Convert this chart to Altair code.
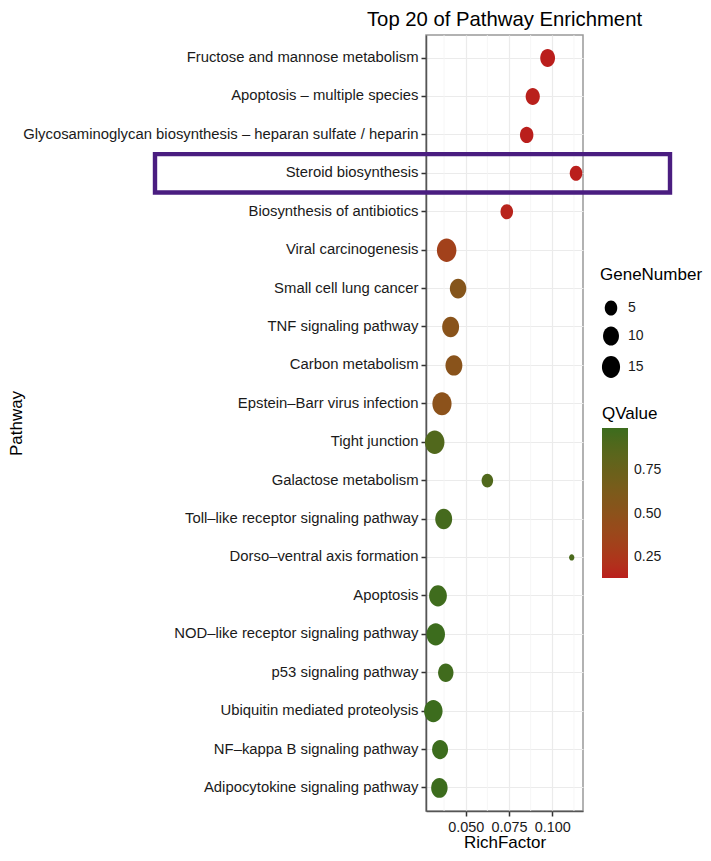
import altair as alt
import pandas as pd

# ---------------- data ----------------
pathways = [
    "Fructose and mannose metabolism",
    "Apoptosis – multiple species",
    "Glycosaminoglycan biosynthesis – heparan sulfate / heparin",
    "Steroid biosynthesis",
    "Biosynthesis of antibiotics",
    "Viral carcinogenesis",
    "Small cell lung cancer",
    "TNF signaling pathway",
    "Carbon metabolism",
    "Epstein–Barr virus infection",
    "Tight junction",
    "Galactose metabolism",
    "Toll–like receptor signaling pathway",
    "Dorso–ventral axis formation",
    "Apoptosis",
    "NOD–like receptor signaling pathway",
    "p53 signaling pathway",
    "Ubiquitin mediated proteolysis",
    "NF–kappa B signaling pathway",
    "Adipocytokine signaling pathway",
]
rich_factor = [0.0973, 0.0887, 0.0852, 0.1137, 0.0737, 0.0390, 0.0456, 0.0413,
               0.0432, 0.0363, 0.0321, 0.0625, 0.0373, 0.1112, 0.0340, 0.0327,
               0.0385, 0.0313, 0.0352, 0.0348]
gene_number = [8, 7, 6, 5, 5, 19, 11, 12, 12, 18, 19, 4, 12, 1, 14, 16, 9, 16, 10, 11]
q_value = [0.129, 0.135, 0.131, 0.133, 0.150, 0.33, 0.55, 0.52, 0.52, 0.50,
           0.89, 0.90, 0.95, 0.93, 0.98, 0.99, 0.975, 0.992, 0.99, 0.992]
major_ticks = [0.050, 0.075, 0.100]
minor_ticks = [0.0375, 0.0625, 0.0875, 0.1125]
size_legend_values = [5, 10, 15]
q_legend_values = [0.25, 0.50, 0.75]
highlight = ["Steroid biosynthesis"]

df = pd.DataFrame({"Pathway": pathways, "RichFactor": rich_factor,
                   "GeneNumber": gene_number, "QValue": q_value})
minor_df = pd.DataFrame({"RichFactor": minor_ticks})
hl_df = pd.DataFrame({"Pathway": highlight})

FONT = "Liberation Sans"
ELLIPSE = "M0,-1A0.83,1,0,1,1,0,1A0.83,1,0,1,1,0,-1Z"

x_scale = alt.Scale(domain=[0.02708, 0.11772], nice=False, zero=False)
y_scale = alt.Scale(domain=pathways, paddingInner=0, paddingOuter=0.1)

x_axis = alt.Axis(values=major_ticks, format=".3f", title="RichFactor",
                  grid=True, gridColor="#EBEBEB", gridWidth=1.2,
                  labelFontSize=14.4, titleFontSize=17, labelPadding=4,
                  titlePadding=1)
y_axis = alt.Axis(title="Pathway", grid=True, gridColor="#EBEBEB", gridWidth=1.2,
                  bandPosition=0.5, labelFontSize=14.85, titleFontSize=17,
                  labelPadding=3, labelLimit=1000,
                  titleX=-410, titleY=388, titleAngle=270,
                  titleAlign="center", titleBaseline="middle")

minor = alt.Chart(minor_df).mark_rule(color="#F4F4F4", strokeWidth=0.8).encode(
    x=alt.X("RichFactor:Q", scale=x_scale, axis=x_axis)
)

points = alt.Chart(df).mark_point(filled=True, shape=ELLIPSE, opacity=1,
                                  strokeWidth=0).encode(
    x=alt.X("RichFactor:Q", scale=x_scale, axis=x_axis),
    y=alt.Y("Pathway:N", scale=y_scale, sort=None, axis=y_axis),
    size=alt.Size("GeneNumber:Q",
                  scale=alt.Scale(type="sqrt", domain=[1, 19], range=[40, 552], zero=False),
                  legend=alt.Legend(title="GeneNumber", values=size_legend_values,
                                    orient="none", legendX=174, legendY=232,
                                    symbolType=ELLIPSE, symbolFillColor="black",
                                    symbolStrokeWidth=0, symbolOpacity=1,
                                    rowPadding=10, labelOffset=6,
                                    titleFontSize=17, labelFontSize=14,
                                    titlePadding=16)),
    color=alt.Color("QValue:Q",
                    scale=alt.Scale(domain=[0.129, 0.992],
                                    range=["#BA1E1C", "#3C6C1D"], interpolate="lab"),
                    legend=alt.Legend(title="QValue", values=q_legend_values,
                                      format=".2f", orient="none", legendX=176,
                                      legendY=371, direction="vertical",
                                      gradientLength=150, gradientThickness=26,
                                      gradientStrokeWidth=0,
                                      titleFontSize=17, labelFontSize=14,
                                      titlePadding=5, labelOffset=6)),
)

box = alt.Chart(hl_df).mark_rect(filled=False, stroke="#4a1d80", strokeWidth=4.4).encode(
    y=alt.Y("Pathway:N", scale=y_scale, sort=None, axis=y_axis),
    x=alt.value(-271),
    x2=alt.value(244),
)

chart = alt.layer(minor, points, box).properties(
    width=157,
    height=776,
    autosize=alt.AutoSizeParams(type="none"),
    padding={"left": 418, "top": 27, "right": 120, "bottom": 42},
    title=alt.TitleParams("Top 20 of Pathway Enrichment", fontSize=20.3,
                          fontWeight="normal", anchor="middle", offset=4,
                          color="black", font=FONT),
).configure_view(
    stroke="#999999", strokeWidth=1.5
).configure_axis(
    labelFont=FONT, titleFont=FONT, labelColor="#1a1a1a", titleColor="black",
    titleFontWeight="normal", tickSize=5, tickColor="#333333", tickWidth=1.5,
    domainColor="#555555", domainWidth=1.5
).configure_legend(
    labelFont=FONT, titleFont=FONT, labelColor="#1a1a1a", titleColor="black",
    titleFontWeight="normal"
)

chart.save("out.html", embed_options={"renderer": "svg", "actions": False})
